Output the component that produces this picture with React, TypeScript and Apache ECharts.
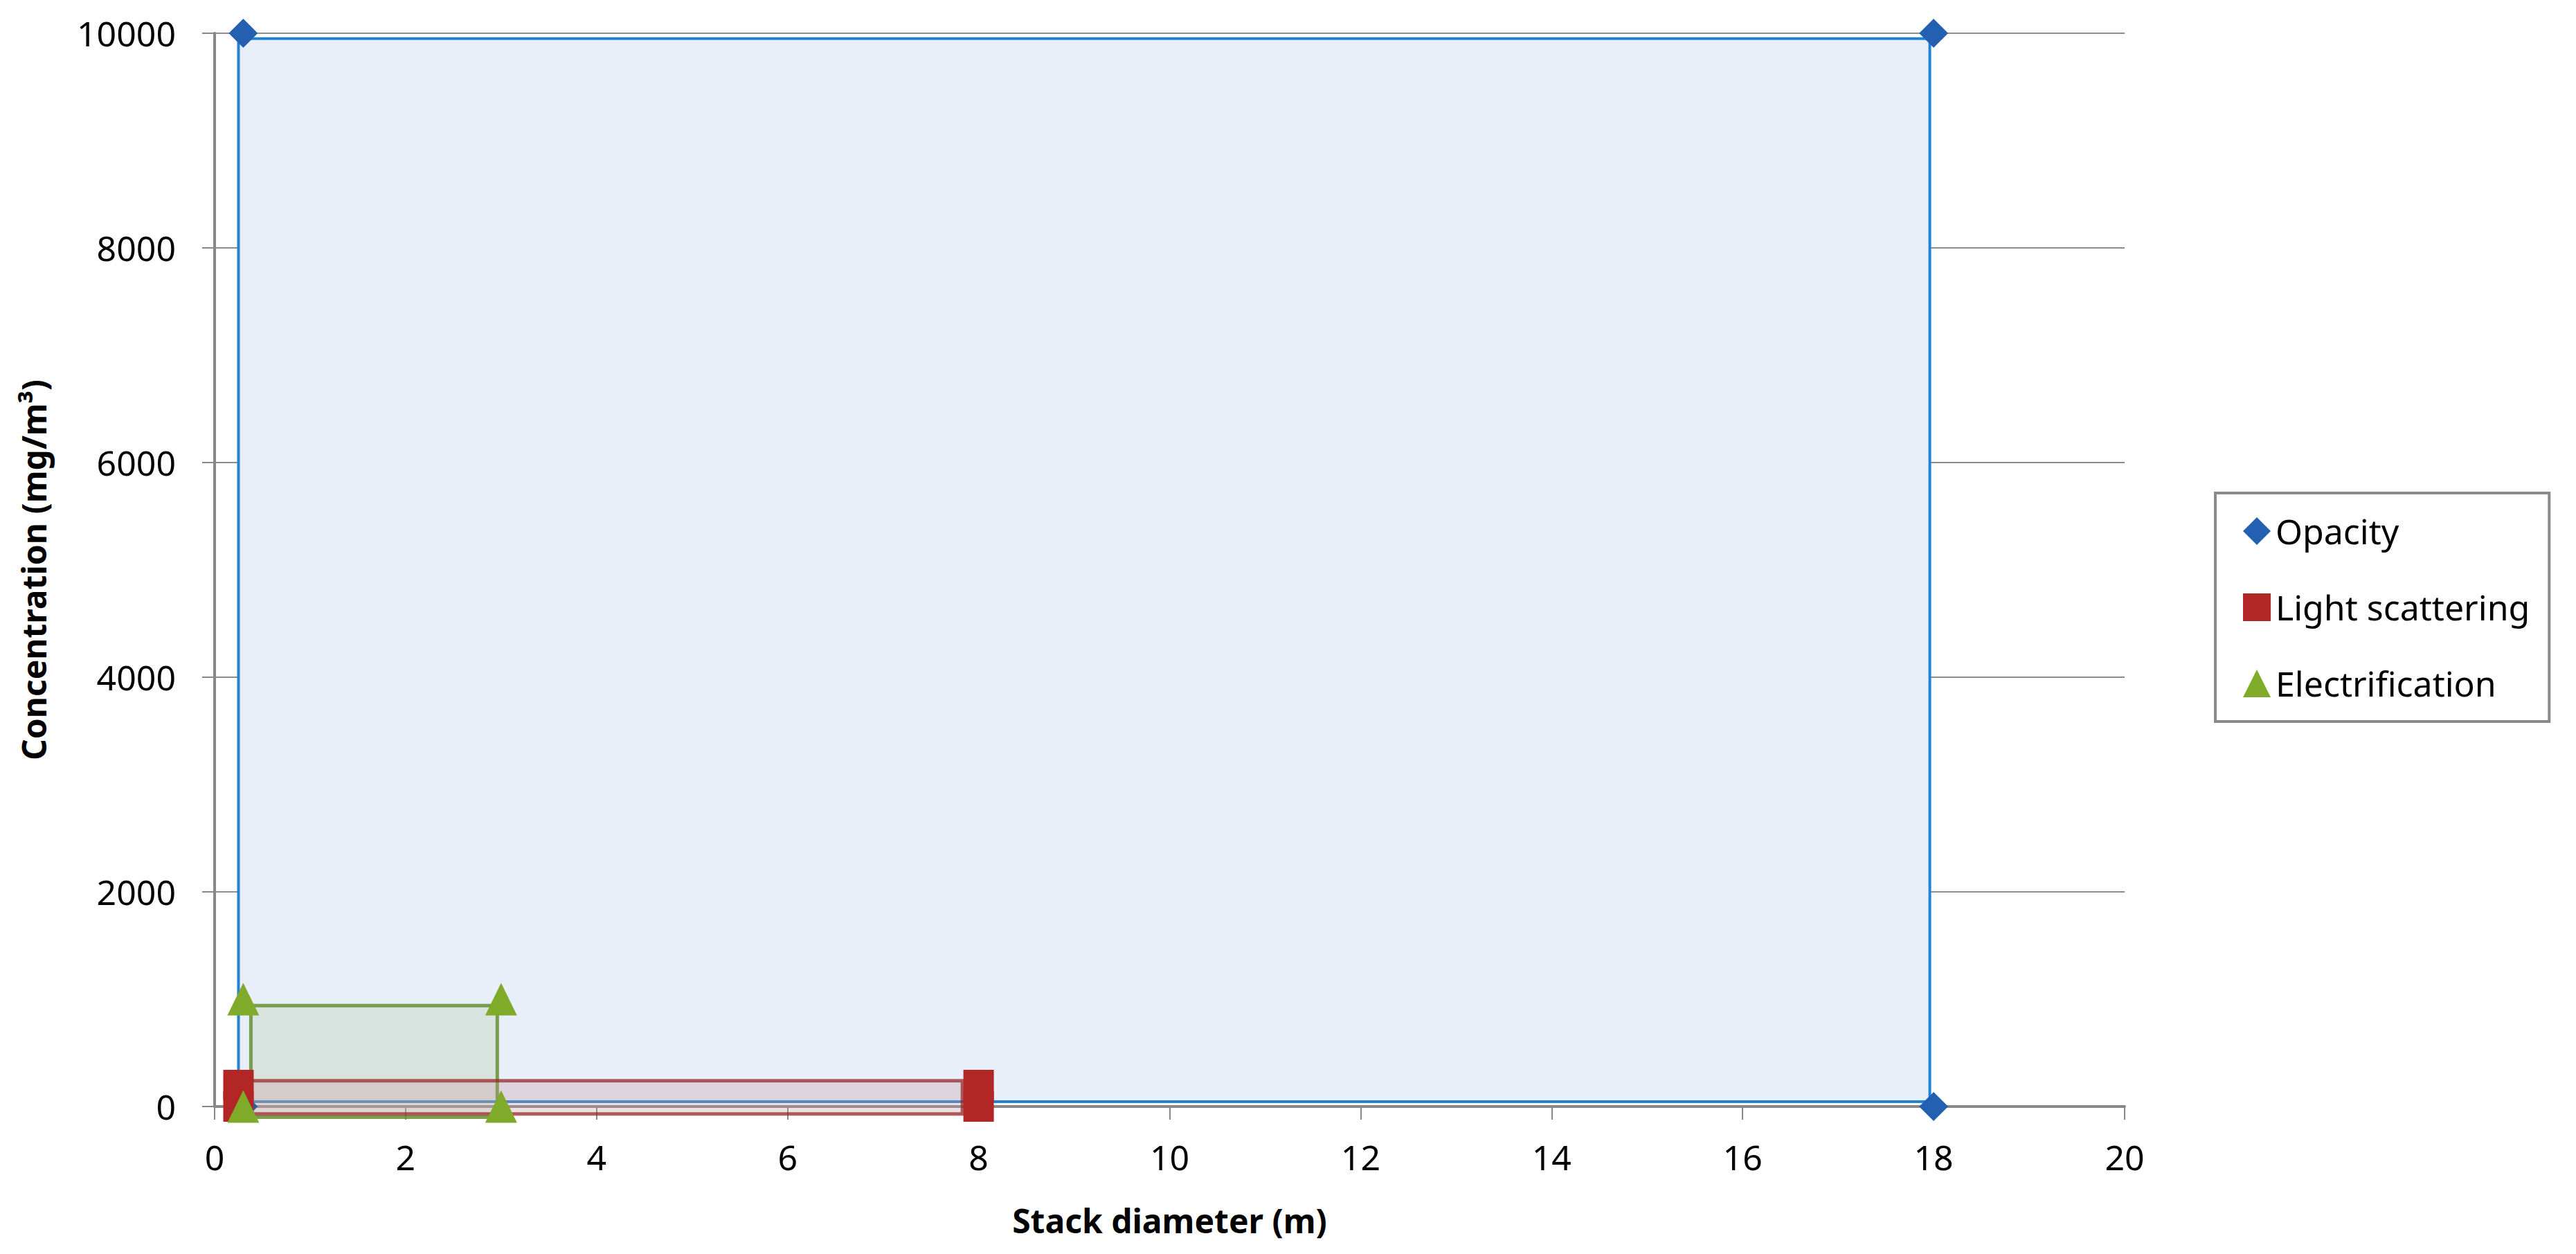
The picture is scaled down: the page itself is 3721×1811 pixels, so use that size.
import React, { useEffect, useRef } from "react";
import * as echarts from "echarts";

const seriesNames = ["Opacity", "Light scattering", "Electrification"];

const opacityX = [0.3, 18, 18, 0.3];
const opacityY = [10000, 10000, 0, 0];
const lightX = [0.25, 8, 8, 0.25];
const lightY = [200, 200, 0, 0];
const elecX = [0.3, 3, 3, 0.3];
const elecY = [1000, 1000, 0, 0];

// shaded boxes: [xMin, yMin, xMax, yMax]
const opacityBox = [0.25, 45, 17.96, 9950];
const lightBox = [0.33, -70, 7.83, 240];
const elecBox = [0.38, -100, 2.96, 940];

const xMin = 0, xMax = 20, xStep = 2;
const yMin = 0, yMax = 10000, yStep = 2000;

const FONT = "Noto Sans";

function pts(xs: number[], ys: number[]) {
  return xs.map((x, i) => [x, ys[i]]);
}

function boxSeries(name: string, b: number[], fill: string, stroke: string, lw: number, z: number) {
  return {
    name,
    type: "custom",
    clip: false,
    silent: true,
    z,
    encode: { x: [0, 2], y: [1, 3] },
    data: [b],
    renderItem: (params: any, api: any) => {
      const p1 = api.coord([api.value(0), api.value(1)]);
      const p2 = api.coord([api.value(2), api.value(3)]);
      const x = Math.min(p1[0], p2[0]);
      const y = Math.min(p1[1], p2[1]);
      return {
        type: "rect",
        shape: { x, y, width: Math.abs(p2[0] - p1[0]), height: Math.abs(p2[1] - p1[1]) },
        style: { fill, stroke, lineWidth: lw },
      };
    },
  };
}

export default function App() {
  const ref = useRef<HTMLDivElement>(null);
  useEffect(() => {
    document.body.style.margin = "0";
    const chart = echarts.init(ref.current!, null, { renderer: "svg" });
    chart.setOption({
      animation: false,
      backgroundColor: "#ffffff",
      grid: { left: 310, right: 652, top: 48, bottom: 213, containLabel: false },
      xAxis: {
        type: "value",
        min: xMin,
        max: xMax,
        interval: xStep,
        name: "Stack diameter (m)",
        nameLocation: "middle",
        nameGap: 140,
        nameTextStyle: { fontFamily: FONT, fontSize: 48, fontWeight: "bold", color: "#000" },
        axisLine: { show: true, onZero: false, lineStyle: { color: "#888888", width: 4 } },
        axisTick: { show: true, inside: false, length: 19, lineStyle: { color: "#888888", width: 2 } },
        axisLabel: { fontFamily: FONT, fontSize: 50, color: "#000", margin: 48, formatter: (v: number) => String(v) },
        splitLine: { show: false },
      },
      yAxis: {
        type: "value",
        min: yMin,
        max: yMax,
        interval: yStep,
        name: "Concentration (mg/m³)",
        nameLocation: "middle",
        nameGap: 238,
        nameTextStyle: { fontFamily: FONT, fontSize: 48, fontWeight: "bold", color: "#000" },
        axisLine: { show: true, lineStyle: { color: "#888888", width: 4 } },
        axisTick: { show: true, inside: false, length: 18, lineStyle: { color: "#888888", width: 2 } },
        axisLabel: { fontFamily: FONT, fontSize: 50, color: "#000", margin: 56, formatter: (v: number) => String(v) },
        splitLine: { show: true, lineStyle: { color: "#8c8c8c", width: 2 } },
      },
      legend: {
        orient: "vertical",
        left: 3200,
        top: 712,
        padding: [30, 28, 30, 40],
        itemGap: 60,
        itemWidth: 40,
        itemHeight: 40,
        borderColor: "#8a8a8a",
        borderWidth: 4,
        textStyle: { fontFamily: FONT, fontSize: 50, color: "#000", lineHeight: 50, padding: [0, 0, 0, 2] },
        data: [
          { name: seriesNames[0], icon: "diamond" },
          { name: seriesNames[1], icon: "rect" },
          { name: seriesNames[2], icon: "triangle" },
        ],
      },
      series: [
        boxSeries("box-opacity", opacityBox, "#e8eff9", "#2482d2", 4, 1),
        boxSeries("box-elec", elecBox, "rgba(170,190,150,0.25)", "rgba(100,145,50,0.85)", 5, 1),
        boxSeries("box-light", lightBox, "rgba(200,150,160,0.3)", "rgba(150,40,40,0.75)", 5, 1),
        {
          name: seriesNames[0],
          type: "scatter",
          clip: false,
          symbol: "diamond",
          symbolSize: [42, 42],
          itemStyle: { color: "#2360b2", opacity: 1 },
          data: pts(opacityX, opacityY),
          z: 3,
        },
        {
          name: seriesNames[1],
          type: "scatter",
          clip: false,
          symbol: "rect",
          symbolSize: [44, 44],
          itemStyle: { color: "#b22626", opacity: 1 },
          data: pts(lightX, lightY),
          z: 4,
        },
        {
          name: seriesNames[2],
          type: "scatter",
          clip: false,
          symbol: "triangle",
          symbolSize: [46, 47],
          itemStyle: { color: "#80aa2a", opacity: 1 },
          data: pts(elecX, elecY),
          z: 5,
        },
      ],
    });
    return () => chart.dispose();
  }, []);
  return <div ref={ref} style={{ width: 3721, height: 1811 }} />;
}
